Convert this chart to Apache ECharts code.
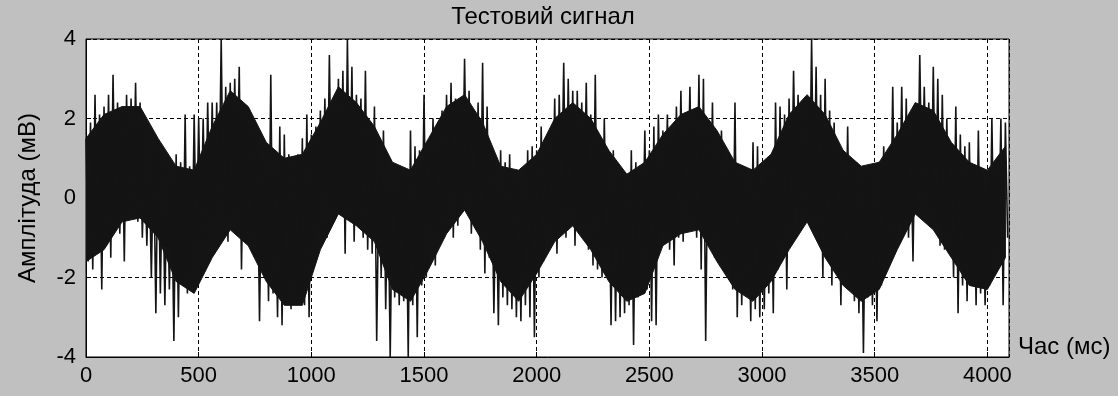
<!DOCTYPE html>
<html lang="uk">
<head>
    <meta charset="utf-8">
    <title>Тестовий сигнал</title>
    <script src="https://cdn.jsdelivr.net/npm/echarts@6/dist/echarts.min.js"></script>
    <style>
        html, body { margin: 0; padding: 0; background: #c0c0c0; }
        #chart { width: 1118px; height: 396px; }
    </style>
</head>
<body>
    <div id="chart"></div>

    <script>
        // signal: upper and lower swing in each 20 ms step
        var stepMs = 20;
        var hiValues = [
            1.5, 1.9, 2.6, 2.1, 2.3, 2.6, 3.1, 2.4, 2.1, 2.6,
            2.5, 2.9, 2.4, 1.2, 1.0, 1.2, 1.4, 0.9, 0.7, 0.4,
            1.1, 0.9, 2.1, 0.8, 2.1, 2.0, 2.0, 2.4, 2.4, 2.4,
            4.0, 2.8, 2.9, 3.0, 3.3, 2.0, 2.0, 1.7, 1.3, 0.9,
            0.6, 3.1, 0.5, 1.8, 1.6, 1.1, 0.8, 1.1, 1.5, 2.1,
            1.6, 1.8, 2.2, 2.5, 3.6, 2.3, 3.0, 3.2, 4.0, 3.3,
            2.6, 2.5, 3.2, 1.9, 2.3, 0.6, 1.7, 0.5, 0.5, 0.6,
            0.6, 0.7, 1.7, 1.3, 1.2, 2.6, 1.3, 2.0, 1.2, 2.2,
            2.6, 2.9, 2.5, 2.1, 3.5, 2.7, 2.2, 2.4, 3.4, 2.3,
            1.2, 0.4, 1.2, 0.9, 1.1, 0.5, 0.3, 0.6, 1.2, 1.3,
            1.2, 1.8, 1.5, 1.2, 2.5, 2.6, 3.4, 3.0, 2.7, 2.7,
            2.4, 2.9, 2.1, 3.1, 1.4, 2.0, 1.0, 1.2, 0.6, 0.5,
            0.4, 1.2, 0.9, 0.5, 1.7, 1.2, 1.8, 2.1, 1.7, 2.1,
            1.5, 2.3, 2.7, 2.0, 2.8, 1.6, 3.1, 3.0, 1.6, 2.4,
            1.3, 1.7, 0.7, 1.0, 2.4, 0.6, 0.8, 0.2, 1.4, 1.3,
            0.3, 0.9, 1.0, 2.4, 2.3, 2.1, 2.5, 3.2, 2.6, 2.3,
            2.2, 4.0, 3.3, 2.6, 3.0, 2.2, 1.9, 1.1, 1.2, 1.8,
            0.9, 0.9, 0.6, 0.5, 0.8, 0.3, 0.9, 1.3, 1.1, 2.8,
            1.9, 2.8, 2.5, 1.5, 2.3, 3.6, 2.8, 2.4, 3.3, 3.0,
            2.6, 2.0, 1.3, 2.3, 1.6, 1.3, 1.4, 0.7, 1.7, 0.6,
            0.3, 2.0, 0.6, 2.0, 1.9
        ];
        var loValues = [
            -1.6, -1.8, -1.3, -2.3, -1.2, -1.5, -0.6, -0.9, -1.6, -0.5,
            -0.3, -0.6, -1.0, -1.2, -2.0, -2.9, -2.4, -2.7, -2.3, -3.6,
            -3.0, -2.2, -2.4, -2.0, -1.4, -1.1, -1.3, -0.8, -0.5, -0.3,
            -0.6, -1.1, -0.5, -0.2, -1.8, -1.1, -1.0, -1.5, -3.1, -1.9,
            -2.6, -2.4, -3.0, -3.2, -2.5, -2.8, -2.6, -2.4, -2.7, -3.0,
            -1.2, -0.7, -1.0, -1.0, -0.5, -0.2, -0.4, -1.4, -0.4, -1.1,
            -0.6, -1.0, -1.3, -1.4, -3.6, -2.0, -2.8, -4.0, -2.5, -2.7,
            -2.6, -4.0, -2.7, -3.5, -2.2, -2.0, -0.7, -1.7, -1.1, -1.0,
            -0.5, -1.0, -0.7, -0.2, -0.1, -0.9, -0.8, -1.3, -1.9, -1.5,
            -2.9, -3.2, -2.5, -2.7, -2.8, -3.0, -3.1, -2.7, -3.0, -3.5,
            -2.0, -1.6, -0.7, -0.9, -1.4, -0.3, -1.0, -0.4, -1.2, -0.6,
            -0.6, -1.3, -1.7, -1.8, -2.0, -1.4, -3.2, -3.1, -3.0, -2.9,
            -2.7, -3.7, -2.5, -1.4, -2.3, -3.1, -3.2, -0.8, -0.9, -1.3,
            -1.7, -1.0, -1.1, -0.3, -0.6, -1.0, -1.8, -3.6, -1.0, -1.5,
            -1.5, -1.8, -1.4, -2.3, -3.0, -2.7, -2.4, -3.1, -2.8, -3.0,
            -2.8, -2.4, -2.9, -1.8, -1.1, -2.3, -0.7, -0.2, -0.6, -0.4,
            -0.5, -0.6, -1.1, -2.0, -1.4, -2.2, -1.6, -2.7, -2.0, -2.3,
            -2.6, -2.9, -3.9, -2.5, -2.7, -3.1, -2.2, -1.9, -1.4, -1.2,
            -0.6, -0.9, -1.0, -1.6, -0.4, 0.1, -0.2, -0.7, -0.6, -1.2,
            -1.3, -1.2, -2.0, -2.9, -2.2, -2.6, -2.1, -2.7, -2.4, -2.7,
            -2.2, -1.8, -1.2, -2.7, -1.0
        ];
        // solid dark core of the trace, one value per 80 ms
        var coreStepMs = 80;
        var coreTop = [
            1.5, 2.1, 2.3, 2.3, 1.5, 0.8, 0.7, 1.8, 2.7, 2.3,
            1.4, 1.0, 1.1, 1.9, 2.8, 2.4, 1.8, 0.9, 0.7, 1.5,
            2.3, 2.6, 1.9, 0.8, 0.7, 1.1, 2.0, 2.4, 2.0, 1.2,
            0.6, 0.9, 1.6, 2.1, 2.3, 1.7, 0.9, 0.7, 1.1, 2.1,
            2.6, 2.1, 1.2, 0.8, 0.9, 1.6, 2.4, 2.2, 1.4, 0.9,
            0.7, 1.3
        ];
        var coreBottom = [
            -1.6, -1.3, -0.6, -0.5, -1.0, -2.1, -2.4, -1.5, -0.8, -1.2,
            -2.1, -2.7, -2.7, -1.3, -0.4, -0.7, -1.1, -2.3, -2.6, -1.8,
            -0.9, -0.3, -1.1, -2.1, -2.6, -1.9, -1.1, -0.7, -1.3, -2.1,
            -2.6, -2.4, -1.2, -0.9, -0.8, -1.6, -2.3, -2.6, -2.1, -1.3,
            -0.6, -1.5, -2.2, -2.6, -2.3, -1.3, -0.4, -0.8, -1.5, -2.2,
            -2.3, -1.5
        ];
        var xTicks = [0, 500, 1000, 1500, 2000, 2500, 3000, 3500, 4000];
        var yTicks = [-4, -2, 0, 2, 4];

        var signal = [];
        for (var i = 0; i < hiValues.length; i++) {
            signal.push([i * stepMs, hiValues[i]]);
            signal.push([i * stepMs + stepMs / 2, loValues[i]]);
        }
        var coreData = [];
        for (var j = 0; j < coreTop.length; j++) {
            coreData.push([j * coreStepMs, coreBottom[j], coreTop[j]]);
        }

        var font = 'Liberation Sans, Arial, sans-serif';
        var ink = '#141414';

        // the dense core as one polygon, placed through the axes
        function renderCore(params, api) {
            if (params.dataIndex !== 0) {
                return null;
            }
            var pts = [];
            for (var k = 0; k < coreData.length; k++) {
                pts.push(api.coord([coreData[k][0], coreData[k][2]]));
            }
            for (var m = coreData.length - 1; m >= 0; m--) {
                pts.push(api.coord([coreData[m][0], coreData[m][1]]));
            }
            return {
                type: 'polygon',
                shape: { points: pts },
                style: { fill: ink, stroke: ink, lineWidth: 1 }
            };
        }

        var myChart = echarts.init(document.getElementById('chart'));
        var option = {
            backgroundColor: '#c0c0c0',
            animation: false,
            title: {
                text: 'Тестовий сигнал',
                left: 543,
                top: 5,
                textAlign: 'center',
                padding: 0,
                textStyle: { fontFamily: font, fontSize: 24, fontWeight: 'normal', color: '#000' }
            },
            grid: {
                left: 86, top: 39, right: 109, bottom: 39,
                show: true,
                backgroundColor: '#fff',
                borderColor: '#000',
                borderWidth: 1
            },
            xAxis: {
                type: 'value',
                min: 0,
                max: 4096,
                interval: 500,
                name: 'Час (мс)',
                nameLocation: 'end',
                nameGap: 9,
                nameTextStyle: { fontFamily: font, fontSize: 24, color: '#000', verticalAlign: 'bottom', padding: [0, 0, -2, 0] },
                axisLine: { show: true, onZero: false, lineStyle: { color: '#000' } },
                axisTick: { show: true, inside: true, length: 5, lineStyle: { color: '#000' } },
                axisLabel: {
                    fontFamily: font, fontSize: 22, color: '#000', margin: 8,
                    showMaxLabel: false,
                    formatter: function (v) { return xTicks.indexOf(v) >= 0 ? String(v) : ''; }
                },
                splitLine: { show: true, lineStyle: { color: '#000', type: [4, 3], width: 1 } }
            },
            yAxis: {
                type: 'value',
                min: -4,
                max: 4,
                interval: 2,
                name: 'Амплітуда (мВ)',
                nameLocation: 'middle',
                nameGap: 46,
                nameTextStyle: { fontFamily: font, fontSize: 24, color: '#000' },
                axisLine: { show: true, lineStyle: { color: '#000' } },
                axisTick: { show: true, inside: true, length: 5, lineStyle: { color: '#000' } },
                axisLabel: {
                    fontFamily: font, fontSize: 22, color: '#000', margin: 10,
                    formatter: function (v) { return yTicks.indexOf(v) >= 0 ? String(v) : ''; }
                },
                splitLine: { show: true, lineStyle: { color: '#000', type: [4, 3], width: 1 } }
            },
            series: [
                {
                    name: 'core',
                    type: 'custom',
                    data: coreData,
                    renderItem: renderCore,
                    clip: true,
                    z: 2
                },
                {
                    name: 'signal',
                    type: 'line',
                    data: signal,
                    symbol: 'none',
                    sampling: false,
                    lineStyle: { color: ink, width: 1.6 },
                    z: 3
                }
            ]
        };
        myChart.setOption(option);
    </script>
</body>
</html>
